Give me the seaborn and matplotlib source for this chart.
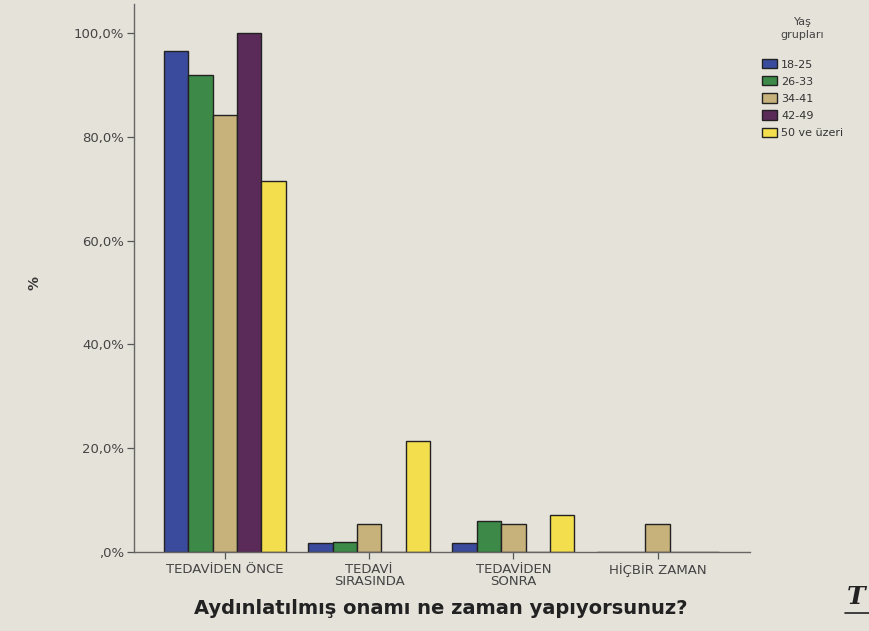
import matplotlib
matplotlib.use("Agg")
import matplotlib.pyplot as plt
import matplotlib.lines as mlines
import seaborn as sns
import pandas as pd

# Categories on the x axis
categories = ["TEDAVİDEN ÖNCE", "TEDAVİ\nSIRASINDA", "TEDAVİDEN\nSONRA", "HİÇBİR ZAMAN"]
# Age groups (hue)
age_groups = ["18-25", "26-33", "34-41", "42-49", "50 ve üzeri"]

# Percentages for each age group across the categories
pct_18_25 = [96.6, 1.7, 1.7, 0.0]
pct_26_33 = [92.0, 2.0, 6.0, 0.0]
pct_34_41 = [84.2, 5.3, 5.3, 5.3]
pct_42_49 = [100.0, 0.0, 0.0, 0.0]
pct_50_up = [71.4, 21.4, 7.1, 0.0]

y_ticks = [0, 20, 40, 60, 80, 100]
y_tick_labels = [",0%", "20,0%", "40,0%", "60,0%", "80,0%", "100,0%"]

series = [pct_18_25, pct_26_33, pct_34_41, pct_42_49, pct_50_up]
rows = []
for grp, vals in zip(age_groups, series):
    for cat, v in zip(categories, vals):
        rows.append({"cat": cat, "grp": grp, "pct": v})
df = pd.DataFrame(rows)

colors = ["#3a4a9c", "#3d8a48", "#c8b27c", "#5a2a58", "#f3df4e"]
bg = "#e5e2da"

sns.set_style("white")
plt.rcParams["font.family"] = ["DejaVu Sans"]

fig = plt.figure(figsize=(8.69, 6.31), dpi=100, facecolor=bg)
ax = fig.add_axes([0.1542, 0.1252, 0.7088, 0.8685])
ax.set_facecolor(bg)

sns.barplot(data=df, x="cat", y="pct", hue="grp", order=categories,
            hue_order=age_groups, palette=colors, saturation=1,
            width=0.845, gap=0, edgecolor="#222222", linewidth=1.0,
            ax=ax, legend=True, errorbar=None)

ax.set_xlim(-0.63, 3.64)
ax.set_ylim(0, 105.6)
ax.set_yticks(y_ticks)
ax.set_yticklabels(y_tick_labels, fontsize=9.5, color="#444444")
ax.tick_params(axis="both", direction="out", length=5, width=0.9,
               color="#555555", left=True, bottom=True, pad=2)
ax.tick_params(axis="x", labelsize=9.5, labelcolor="#444444", pad=3)
for lab in ax.get_xticklabels():
    lab.set_linespacing(0.9)

sns.despine(ax=ax)
for s in ("left", "bottom"):
    ax.spines[s].set_color("#666666")
    ax.spines[s].set_linewidth(1.0)

ax.set_xlabel("Aydınlatılmış onamı ne zaman yapıyorsunuz?", fontsize=14,
              fontweight="bold", color="#222222")
ax.xaxis.set_label_coords(0.498, -0.086)
ax.set_ylabel("%", fontsize=10, fontweight="bold", color="#333333")
ax.yaxis.set_label_coords(-0.15, 0.49)

handles, labels = ax.get_legend_handles_labels()
ax.get_legend().remove()
leg = fig.legend(handles, labels, title="Yaş\ngrupları", loc="upper left",
                 bbox_to_anchor=(0.868, 0.985), frameon=False, fontsize=8,
                 title_fontsize=8, handlelength=1.3, handleheight=0.9,
                 handletextpad=0.4, labelspacing=0.6, borderpad=0.2)
leg.get_title().set_ha("center")
leg.get_title().set_color("#444444")
leg.get_title().set_linespacing(1.3)
leg._legend_box.sep = 14
for t in leg.get_texts():
    t.set_color("#333333")
for h in leg.legend_handles:
    h.set_edgecolor("#222222")

# Italic page heading fragment at the lower right corner
fig.text(0.975, 0.035, "T", fontsize=18, fontstyle="italic", fontweight="bold",
         family="DejaVu Serif", color="#222222", ha="left", va="bottom")
fig.add_artist(mlines.Line2D([0.972, 1.0], [0.028, 0.028], color="#222222",
                             linewidth=1.2, transform=fig.transFigure))

fig.savefig("out.png", dpi=100, facecolor=bg)
